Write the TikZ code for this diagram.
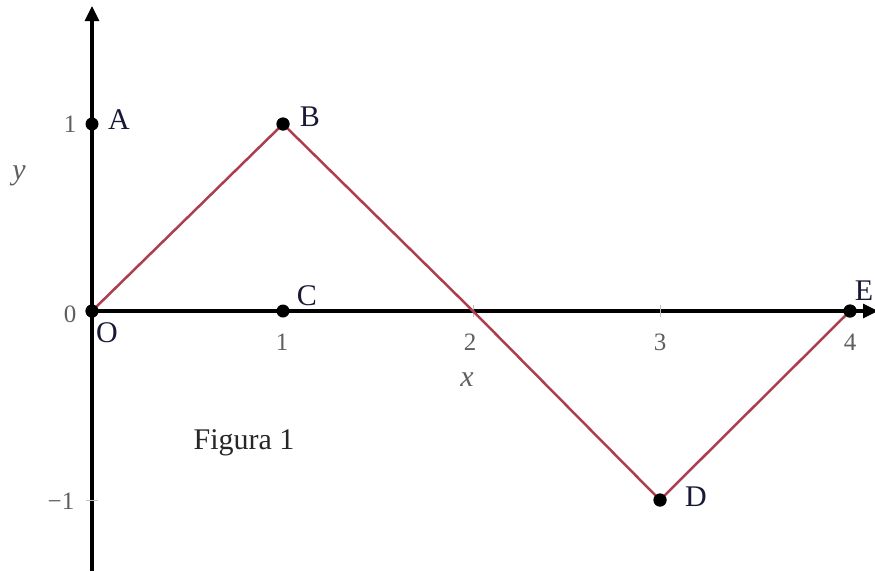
\documentclass[tikz,border=0pt]{standalone}
\usepackage{fontspec}
\setmainfont{Liberation Serif}
\usetikzlibrary{arrows.meta}
\definecolor{zig}{RGB}{172,62,78}
\definecolor{tickgray}{RGB}{95,95,95}
\definecolor{lblblue}{RGB}{25,25,55}
\begin{document}
\begin{tikzpicture}[x=1pt,y=-1pt,
  axis/.style={line width=3.2pt,black,-{Triangle[length=15pt,width=14pt]}},
  zigline/.style={line width=2.5pt,zig},
  pt/.style={circle,fill=black,inner sep=0pt,minimum size=13pt},
  lbl/.style={font=\fontsize{30}{33}\selectfont,text=lblblue,inner sep=0pt},
  ticklbl/.style={font=\fontsize{25}{28}\selectfont,text=tickgray,inner sep=0pt},
  tickmark/.style={line width=0.8pt,gray!50}]
\useasboundingbox (0,0) rectangle (875,571);
% axes
\coordinate (ybot) at (92,571);
\coordinate (ytop) at (92,6);
\coordinate (xleft) at (92,311);
\coordinate (xright) at (878,311);
\draw[axis] (ybot) -- (ytop);
\draw[axis] (xleft) -- (xright);
% tick marks
\foreach \xx in {283,473,660,850} \draw[tickmark] (\xx,305) -- (\xx,317);
\foreach \yy in {124,500} \draw[tickmark] (86,\yy) -- (98,\yy);
% points
\node[pt] (O) at (92,311) {};
\node[pt] (A) at (92,124) {};
\node[pt] (B) at (283,124) {};
\node[pt] (C) at (283,311) {};
\coordinate (M) at (473,311);
\node[pt] (D) at (660,500) {};
\node[pt] (E) at (850,311) {};
% zigzag
\draw[zigline] (O.center) -- (B.center) -- (M) -- (D.center) -- (E.center);
\node[pt] at (O) {};
\node[pt] at (B) {};
\node[pt] at (D) {};
\node[pt] at (E) {};
% labels
\node[lbl] (lA) at (119,120) {A};
\node[lbl] (lB) at (310,117) {B};
\node[lbl] (lC) at (307,296) {C};
\node[lbl] (lO) at (107,333) {O};
\node[lbl] (lD) at (696,497) {D};
\node[lbl] (lE) at (864,291) {E};
% axis names
\node[ticklbl,font=\fontsize{30}{33}\selectfont\itshape] (ly) at (19,176) {y};
\node[ticklbl,font=\fontsize{30}{33}\selectfont\itshape] (lx) at (467,380) {x};
% tick labels
\node[ticklbl] (t1y) at (70,124) {1};
\node[ticklbl] (t0y) at (70,314) {0};
\node[ticklbl] (tm1) at (61,501) {\textminus1};
\node[ticklbl] (t1) at (282,342) {1};
\node[ticklbl] (t2) at (470,342) {2};
\node[ticklbl] (t3) at (660,342) {3};
\node[ticklbl] (t4) at (850,342) {4};
% caption
\node[lbl,text=black!85] (cap) at (244,443) {Figura 1};
\end{tikzpicture}
\end{document}
